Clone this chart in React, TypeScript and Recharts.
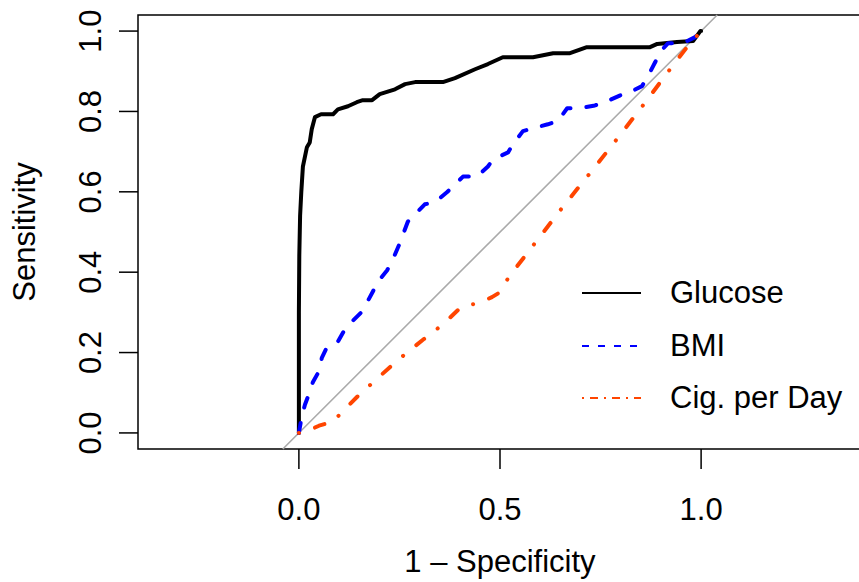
import {
  Legend,
  Line,
  LineChart,
  ReferenceArea,
  ReferenceLine,
  XAxis,
  YAxis,
} from "recharts";

const FONT = '"Liberation Sans", Arial, Helvetica, sans-serif';

// 1 - specificity / sensitivity pairs
const glucoseX = [
  0, 0, 0.001, 0.003, 0.006, 0.01, 0.02, 0.027, 0.032, 0.04, 0.055, 0.085,
  0.097, 0.122, 0.144, 0.159, 0.182, 0.201, 0.239, 0.264, 0.289, 0.358, 0.388,
  0.438, 0.47, 0.507, 0.582, 0.632, 0.674, 0.716, 0.873, 0.891, 0.94, 0.98,
  0.998, 1,
];
const glucoseY = [
  0, 0.3, 0.44, 0.54, 0.6, 0.663, 0.711, 0.723, 0.756, 0.786, 0.793, 0.793,
  0.805, 0.813, 0.823, 0.828, 0.828, 0.843, 0.855, 0.868, 0.873, 0.873, 0.883,
  0.905, 0.918, 0.935, 0.935, 0.945, 0.945, 0.96, 0.96, 0.968, 0.973, 0.975,
  1, 1,
];

const bmiX = [
  0, 0.007, 0.015, 0.027, 0.035, 0.052, 0.057, 0.07, 0.097, 0.114, 0.132,
  0.154, 0.169, 0.184, 0.197, 0.219, 0.231, 0.25, 0.271, 0.289, 0.313, 0.338,
  0.368, 0.383, 0.408, 0.443, 0.47, 0.483, 0.52, 0.532, 0.557, 0.582, 0.619,
  0.644, 0.667, 0.699, 0.736, 0.761, 0.799, 0.823, 0.853, 0.868, 0.886, 0.898,
  0.918, 0.955, 0.985, 1,
];
const bmiY = [
  0, 0.04, 0.07, 0.102, 0.127, 0.157, 0.187, 0.214, 0.227, 0.257, 0.277,
  0.299, 0.324, 0.352, 0.377, 0.404, 0.426, 0.47, 0.526, 0.544, 0.569, 0.574,
  0.599, 0.613, 0.638, 0.638, 0.663, 0.681, 0.698, 0.718, 0.751, 0.758, 0.768,
  0.776, 0.808, 0.808, 0.815, 0.823, 0.84, 0.848, 0.863, 0.888, 0.923, 0.948,
  0.97, 0.97, 0.985, 1,
];

const cigX = [
  0, 0.02, 0.05, 0.085, 0.107, 0.15, 0.189, 0.23, 0.271, 0.31, 0.358, 0.4,
  0.415, 0.445, 0.48, 0.495, 0.525, 0.592, 0.659, 0.729, 0.796, 0.863, 0.93,
  0.965, 1,
];
const cigY = [
  0, 0.004, 0.018, 0.028, 0.052, 0.095, 0.13, 0.167, 0.202, 0.233, 0.27, 0.31,
  0.318, 0.322, 0.338, 0.347, 0.392, 0.479, 0.566, 0.653, 0.738, 0.825, 0.915,
  0.96, 1,
];

const seriesNames = ["Glucose", "BMI", "Cig. per Day"];
const xTicks = [0, 0.5, 1];
const yTicks = [0, 0.2, 0.4, 0.6, 0.8, 1];

const toPoints = (xs: number[], ys: number[]) =>
  xs.map((x, i) => ({ x, y: ys[i] }));

const series = [
  { name: seriesNames[0], data: toPoints(glucoseX, glucoseY), color: "#000000", dash: undefined, legendDash: undefined },
  { name: seriesNames[1], data: toPoints(bmiX, bmiY), color: "#0000FF", dash: "10 16", legendDash: "7 9" },
  { name: seriesNames[2], data: toPoints(cigX, cigY), color: "#FF4500", dash: "0.1 17 10 17", legendDash: "2 6 8 6" },
];

const XTick = ({ x, payload }: any) => (
  <text x={x} y={520} textAnchor="middle" fontSize={31} fontFamily={FONT} fill="#000">
    {payload.value.toFixed(1)}
  </text>
);

const YTick = ({ y, payload }: any) => (
  <text
    x={101}
    y={y}
    textAnchor="middle"
    fontSize={31}
    fontFamily={FONT}
    fill="#000"
    transform={`rotate(-90, 101, ${y})`}
  >
    {payload.value.toFixed(1)}
  </text>
);

const XLabel = ({ viewBox }: any) => (
  <text
    x={viewBox.x + viewBox.width / 2}
    y={572}
    textAnchor="middle"
    fontSize={31}
    fontFamily={FONT}
    fill="#000"
  >
    1 – Specificity
  </text>
);

const YLabel = ({ viewBox }: any) => {
  const cy = viewBox.y + viewBox.height / 2;
  return (
    <text
      x={35}
      y={cy}
      textAnchor="middle"
      fontSize={31}
      fontFamily={FONT}
      fill="#000"
      transform={`rotate(-90, 35, ${cy})`}
    >
      Sensitivity
    </text>
  );
};

const RocLegend = () => (
  <div style={{ fontFamily: FONT, fontSize: 31, color: "#000" }}>
    {series.map((s) => (
      <div key={s.name} style={{ display: "flex", alignItems: "center", height: 52.5 }}>
        <svg width={59} height={6} style={{ marginLeft: 7 }}>
          <line
            x1={0}
            y1={3}
            x2={59}
            y2={3}
            stroke={s.color}
            strokeWidth={2}
            strokeDasharray={s.legendDash}
          />
        </svg>
        <span style={{ marginLeft: 29, whiteSpace: "nowrap" }}>{s.name}</span>
      </div>
    ))}
  </div>
);

export default function App() {
  return (
    <div
      style={{
        position: "fixed",
        top: 0,
        left: 0,
        width: 859,
        height: 582,
        overflow: "hidden",
        background: "#fff",
      }}
    >
      <LineChart width={870} height={582} margin={{ top: 15, right: 8, bottom: 0, left: 0 }}>
        <XAxis
          type="number"
          dataKey="x"
          domain={[-0.4, 1.4]}
          ticks={xTicks}
          allowDataOverflow
          height={133}
          axisLine={false}
          tickSize={20}
          tickLine={{ stroke: "#000", strokeWidth: 1.5 }}
          tick={<XTick />}
          label={<XLabel />}
        />
        <YAxis
          type="number"
          dataKey="y"
          domain={[-0.04, 1.04]}
          ticks={yTicks}
          allowDataOverflow
          width={138}
          axisLine={false}
          tickSize={19}
          tickLine={{ stroke: "#000", strokeWidth: 1.5 }}
          tick={<YTick />}
          label={<YLabel />}
        />
        <ReferenceArea
          x1={-0.4}
          x2={1.4}
          y1={-0.04}
          y2={1.04}
          fill="none"
          stroke="#000"
          strokeWidth={1.5}
          ifOverflow="visible"
        />
        <ReferenceLine
          segment={[
            { x: -0.04, y: -0.04 },
            { x: 1.04, y: 1.04 },
          ]}
          stroke="#AAAAAA"
          strokeWidth={1.6}
          ifOverflow="visible"
        />
        {series.map((s) => (
          <Line
            key={s.name}
            data={s.data}
            dataKey="y"
            name={s.name}
            type="linear"
            stroke={s.color}
            strokeWidth={4}
            strokeDasharray={s.dash}
            strokeLinecap="round"
            strokeLinejoin="round"
            dot={false}
            activeDot={false}
            isAnimationActive={false}
          />
        ))}
        <Legend
          layout="horizontal"
          verticalAlign="middle"
          align="center"
          content={<RocLegend />}
          wrapperStyle={{ left: 575, top: 267, width: 284 }}
        />
      </LineChart>
    </div>
  );
}
